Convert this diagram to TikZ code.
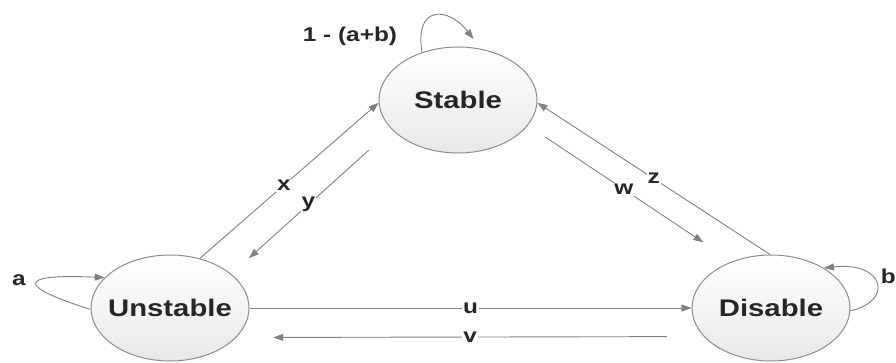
\documentclass[tikz,border=0pt]{standalone}
\usepackage{fontspec}
\usetikzlibrary{shapes.geometric, arrows.meta}
\newfontfamily\diagfont[FakeStretch=1.22]{Liberation Sans}
\definecolor{linegray}{RGB}{128, 128, 128}
\definecolor{rimgray}{RGB}{140, 140, 140}
\definecolor{labelink}{RGB}{38, 38, 38}

\tikzset{
    state/.style={ellipse, draw=rimgray, line width=1pt,
        top color=white, bottom color=black!9,
        minimum width=158pt, minimum height=106pt, inner sep=0pt,
        label={[statetxt]center:#1}},
    statetxt/.style={font=\diagfont\bfseries\fontsize{24pt}{24pt}\selectfont,
        text=labelink},
    conn/.style={draw=linegray, line width=0.9pt,
        -{Triangle[length=10pt, width=7pt]}},
    edgelbl/.style={font=\diagfont\bfseries\fontsize{20pt}{20pt}\selectfont,
        text=labelink, fill=white, inner sep=1pt},
    looplbl/.style={font=\diagfont\bfseries\fontsize{20pt}{20pt}\selectfont,
        text=labelink, inner sep=0pt}
}

\begin{document}
\begin{tikzpicture}[x=1pt, y=1pt]

                \useasboundingbox (0, 0) rectangle (896, 362);

                \node[state=Stable] (stable) at (458, 262) {};
                \node[state=Unstable] (unstable) at (170, 54) {};
                \node[state=Disable] (disable) at (771, 54) {};

                \draw[conn] (unstable.59) -- node[edgelbl, pos=.47] {x} (stable.182);
                \draw[conn, shorten <=30.8pt, shorten >=23.7pt]
                    (stable.204.5) -- node[edgelbl, pos=.52] {y} (unstable.29.7);

                \draw[conn] (disable.91) -- node[edgelbl, pos=.5] {z} (stable.358);
                \draw[conn, shorten <=21.3pt, shorten >=34.3pt]
                    (stable.340.1) -- node[edgelbl, pos=.47] {w} (disable.130.7);

                \draw[conn] (unstable.0) -- node[edgelbl] {u} (disable.180);
                \draw[conn, shorten <=36.9pt, shorten >=36.9pt]
                    (disable.203.7) -- node[edgelbl] {v} (unstable.336.3);

                \draw[conn] (unstable.181) .. controls +(-70, 22) and +(-92, 4) .. (unstable.155);
                \draw[conn] (disable.358.5) .. controls +(44, 10) and +(60, 7) .. (disable.37);
                \draw[conn, shorten >=12pt]
                    (stable.127.5) .. controls +(-8, 48) and +(-32, 42) .. (stable.66.5);

                \node[looplbl, anchor=base] (pstable) at (350, 320) {1 - (a+b)};
                \node[looplbl, anchor=base] (punstable) at (19, 77) {a};
                \node[looplbl, anchor=base east] (pdisable) at (896, 79) {b};

            \end{tikzpicture}
\end{document}
